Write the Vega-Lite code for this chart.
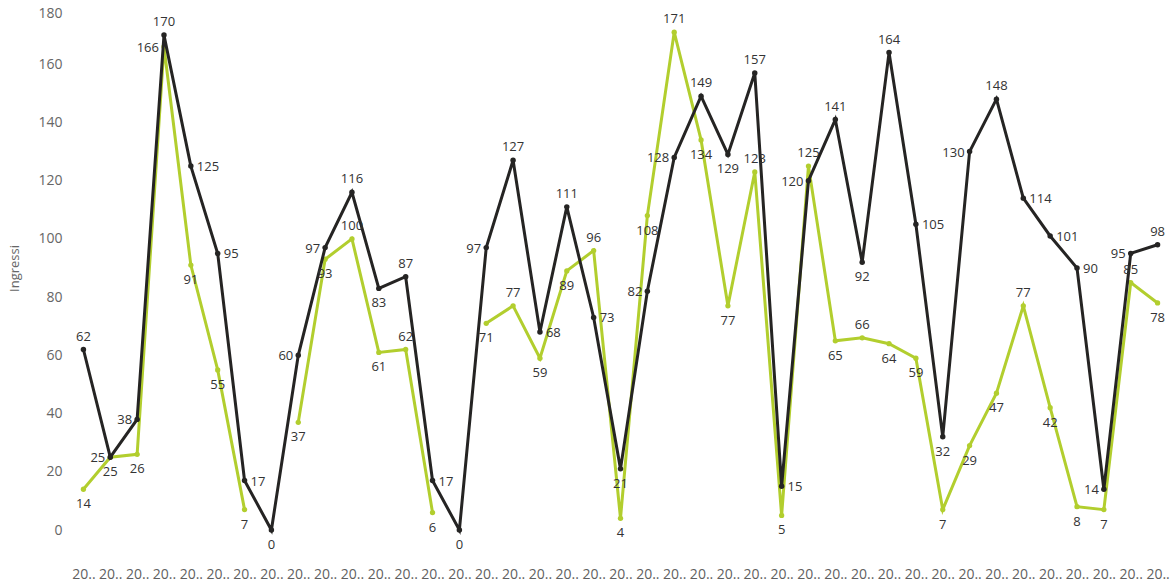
{
  "$schema": "https://vega.github.io/schema/vega-lite/v6.json",
  "width": 1101,
  "height": 524,
  "autosize": "none",
  "padding": {"left": 70, "top": 6, "right": 3, "bottom": 55},
  "background": "white",
  "config": {"view": {"stroke": null}, "font": "Open Sans", "axis": {"grid": false}},
  "data": {"values": [
    {"i": 1, "ingressi_a": 62, "ingressi_b": 14},
    {"i": 2, "ingressi_a": 25, "ingressi_b": 25},
    {"i": 3, "ingressi_a": 38, "ingressi_b": 26},
    {"i": 4, "ingressi_a": 170, "ingressi_b": 166},
    {"i": 5, "ingressi_a": 125, "ingressi_b": 91},
    {"i": 6, "ingressi_a": 95, "ingressi_b": 55},
    {"i": 7, "ingressi_a": 17, "ingressi_b": 7},
    {"i": 8, "ingressi_a": 0, "ingressi_b": null},
    {"i": 9, "ingressi_a": 60, "ingressi_b": 37},
    {"i": 10, "ingressi_a": 97, "ingressi_b": 93},
    {"i": 11, "ingressi_a": 116, "ingressi_b": 100},
    {"i": 12, "ingressi_a": 83, "ingressi_b": 61},
    {"i": 13, "ingressi_a": 87, "ingressi_b": 62},
    {"i": 14, "ingressi_a": 17, "ingressi_b": 6},
    {"i": 15, "ingressi_a": 0, "ingressi_b": null},
    {"i": 16, "ingressi_a": 97, "ingressi_b": 71},
    {"i": 17, "ingressi_a": 127, "ingressi_b": 77},
    {"i": 18, "ingressi_a": 68, "ingressi_b": 59},
    {"i": 19, "ingressi_a": 111, "ingressi_b": 89},
    {"i": 20, "ingressi_a": 73, "ingressi_b": 96},
    {"i": 21, "ingressi_a": 21, "ingressi_b": 4},
    {"i": 22, "ingressi_a": 82, "ingressi_b": 108},
    {"i": 23, "ingressi_a": 128, "ingressi_b": 171},
    {"i": 24, "ingressi_a": 149, "ingressi_b": 134},
    {"i": 25, "ingressi_a": 129, "ingressi_b": 77},
    {"i": 26, "ingressi_a": 157, "ingressi_b": 123},
    {"i": 27, "ingressi_a": 15, "ingressi_b": 5},
    {"i": 28, "ingressi_a": 120, "ingressi_b": 125},
    {"i": 29, "ingressi_a": 141, "ingressi_b": 65},
    {"i": 30, "ingressi_a": 92, "ingressi_b": 66},
    {"i": 31, "ingressi_a": 164, "ingressi_b": 64},
    {"i": 32, "ingressi_a": 105, "ingressi_b": 59},
    {"i": 33, "ingressi_a": 32, "ingressi_b": 7},
    {"i": 34, "ingressi_a": 130, "ingressi_b": 29},
    {"i": 35, "ingressi_a": 148, "ingressi_b": 47},
    {"i": 36, "ingressi_a": 114, "ingressi_b": 77},
    {"i": 37, "ingressi_a": 101, "ingressi_b": 42},
    {"i": 38, "ingressi_a": 90, "ingressi_b": 8},
    {"i": 39, "ingressi_a": 14, "ingressi_b": 7},
    {"i": 40, "ingressi_a": 95, "ingressi_b": 85},
    {"i": 41, "ingressi_a": 98, "ingressi_b": 78}
  ]},
  "transform": [
    {"window": [
      {"op": "lag", "field": "ingressi_a", "as": "aPrev"},
      {"op": "lead", "field": "ingressi_a", "as": "aNext"},
      {"op": "lag", "field": "ingressi_b", "as": "bPrev"},
      {"op": "lead", "field": "ingressi_b", "as": "bNext"}
    ], "sort": [{"field": "i", "order": "ascending"}]},
    {"calculate": "(datum.aPrev == null || datum.ingressi_a >= datum.aPrev) && (datum.aNext == null || datum.ingressi_a >= datum.aNext)", "as": "aMax"},
    {"calculate": "(datum.aPrev == null || datum.ingressi_a <= datum.aPrev) && (datum.aNext == null || datum.ingressi_a <= datum.aNext)", "as": "aMin"},
    {"calculate": "datum.aMax ? 'above' : (datum.aMin ? ((datum.ingressi_b != null && abs(datum.ingressi_a - datum.ingressi_b) < 8) ? 'left' : (datum.ingressi_b != null && abs(datum.ingressi_a - datum.ingressi_b) < 12 ? 'right' : 'below')) : (datum.aNext > datum.ingressi_a ? 'left' : 'right'))", "as": "posA"},
    {"calculate": "(datum.ingressi_b != null) && (datum.bPrev == null || datum.ingressi_b >= datum.bPrev) && (datum.bNext == null || datum.ingressi_b >= datum.bNext)", "as": "bMax"},
    {"calculate": "datum.bMax ? ((datum.posA == 'above' && abs(datum.ingressi_a - datum.ingressi_b) < 12) ? 'left' : 'above') : 'below'", "as": "posB"},
    {"fold": ["ingressi_a", "ingressi_b"], "as": ["serie", "v"]},
    {"calculate": "datum.serie == 'ingressi_a' ? datum.posA : datum.posB", "as": "pos"}
  ],
  "encoding": {
    "x": {
      "field": "i", "type": "ordinal",
      "scale": {"type": "point", "padding": 0.5},
      "axis": {"title": null, "labelExpr": "'20..'", "labelAngle": 0, "ticks": false, "tickSize": 0, "domain": false, "labelPadding": 37, "labelFontSize": 14, "labelColor": "#5f5f5f", "labelOverlap": false, "labelLimit": 0}
    },
    "y": {
      "field": "v", "type": "quantitative",
      "scale": {"domain": [0, 180], "nice": false, "zero": true},
      "axis": {"title": "Ingressi", "values": [0, 20, 40, 60, 80, 100, 120, 140, 160, 180], "domain": false, "ticks": false, "tickSize": 0, "labelPadding": 8, "labelFontSize": 14, "labelColor": "#666666", "titleFontSize": 13, "titleFontWeight": "normal", "titleColor": "#666666", "titlePadding": 16,
        "labelOffset": {"condition": {"test": "datum.value === 180", "value": 7}, "value": 0}}
    }
  },
  "layer": [
    {
      "transform": [{"filter": "datum.serie == 'ingressi_b'"}],
      "mark": {"type": "line", "strokeWidth": 3, "invalid": "break-paths-show-domains"},
      "encoding": {"color": {"field": "serie", "type": "nominal", "scale": {"domain": ["ingressi_a", "ingressi_b"], "range": ["#252423", "#B2CE2E"]}, "legend": null}}
    },
    {
      "transform": [{"filter": "datum.serie == 'ingressi_b' && datum.v != null"}],
      "mark": {"type": "circle", "size": 28, "opacity": 1},
      "encoding": {"color": {"field": "serie", "type": "nominal", "legend": null}}
    },
    {
      "transform": [{"filter": "datum.serie == 'ingressi_a'"}],
      "mark": {"type": "line", "strokeWidth": 3, "invalid": "break-paths-show-domains"},
      "encoding": {"color": {"field": "serie", "type": "nominal", "legend": null}}
    },
    {
      "transform": [{"filter": "datum.serie == 'ingressi_a' && datum.v != null"}],
      "mark": {"type": "circle", "size": 30, "opacity": 1},
      "encoding": {"color": {"field": "serie", "type": "nominal", "legend": null}}
    },
    {
      "transform": [{"filter": "datum.pos == 'above' && datum.v != null"}],
      "mark": {"type": "text", "dy": -13, "fontSize": 13, "color": "#333333"},
      "encoding": {"text": {"field": "v", "type": "quantitative"}}
    },
    {
      "transform": [{"filter": "datum.pos == 'below' && datum.v != null"}],
      "mark": {"type": "text", "dy": 15, "fontSize": 13, "color": "#333333"},
      "encoding": {"text": {"field": "v", "type": "quantitative"}}
    },
    {
      "transform": [{"filter": "datum.pos == 'left' && datum.v != null"}],
      "mark": {"type": "text", "dx": -5, "dy": 1, "align": "right", "fontSize": 13, "color": "#333333"},
      "encoding": {"text": {"field": "v", "type": "quantitative"}}
    },
    {
      "transform": [{"filter": "datum.pos == 'right' && datum.v != null"}],
      "mark": {"type": "text", "dx": 6, "dy": 1, "align": "left", "fontSize": 13, "color": "#333333"},
      "encoding": {"text": {"field": "v", "type": "quantitative"}}
    }
  ]
}
